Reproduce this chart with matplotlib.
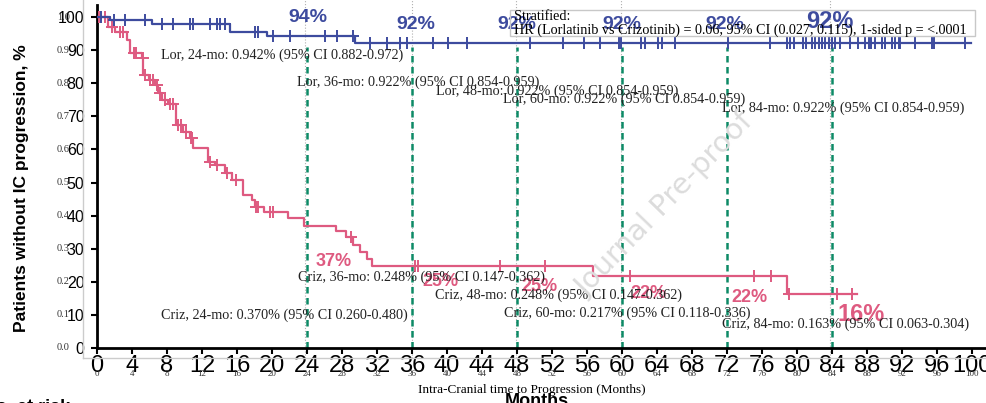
import matplotlib
matplotlib.use("Agg")
import matplotlib.pyplot as plt
from matplotlib.patches import Rectangle
from matplotlib.lines import Line2D
import numpy as np

# Kaplan-Meier step data (months, % without IC progression)
lor_times = [0, 1.5, 6.3, 15.2, 19.4, 29.5]
lor_surv = [100, 99.1, 97.8, 95.6, 94.2, 92.2]
lor_end = 99.9
lor_censor = [0.4, 1.9, 3.2, 5.5, 7.4, 8.7, 10.6, 11.0, 12.9, 13.7, 14.1, 14.6,
              18.1, 18.4, 20.1, 22.1, 26.1, 27.4, 29.2, 31.2, 33.1, 34.6, 35.4,
              38.4, 40.1, 42.3, 49.5, 53.3, 55.6, 57.5, 59.6, 59.9, 62.2, 62.6,
              64.1, 64.6, 66.1, 72.1, 76.9, 78.8, 79.2, 79.6, 80.7, 81.0, 81.7,
              82.1, 82.5, 82.8, 83.2, 83.6, 84.0, 84.3, 84.9, 86.1, 87.0, 87.8,
              88.2, 88.5, 88.9, 89.7, 90.1, 90.8, 91.2, 91.6, 91.8, 93.5, 95.4,
              95.7, 99.2]

criz_times = [0, 1.3, 2.1, 3.4, 3.8, 5.1, 5.3, 5.9, 6.6, 7.0, 7.4, 8.1, 9.0,
              9.8, 10.6, 11.0, 12.7, 13.5, 14.6, 15.4, 16.7, 17.7, 18.1, 19.1,
              21.8, 23.7, 27.3, 28.5, 29.2, 30.1, 30.8, 31.4, 56.7, 78.8]
criz_surv = [100, 97.1, 95.6, 93.0, 89.0, 87.5, 82.5, 81.0, 79.5, 76.9, 75.0,
             73.6, 67.4, 65.4, 63.3, 60.3, 56.3, 55.3, 52.8, 50.8, 46.2, 44.7,
             42.7, 41.2, 39.2, 37.0, 35.3, 33.4, 31.2, 29.1, 27.0, 24.8, 21.7,
             16.3]
criz_end = 86.8
criz_censor = [0.2, 0.9, 1.7, 2.6, 3.0, 4.2, 4.5, 5.2, 5.5, 6.0, 6.4, 6.8, 7.2,
               7.8, 8.3, 8.7, 9.2, 9.6, 10.2, 10.7, 10.8, 12.9, 13.7, 14.8,
               15.9, 18.2, 18.4, 19.8, 20.1, 29.0, 36.3, 36.7, 46.0, 51.2, 60.9,
               75.1, 77.0, 79.1, 84.6, 86.3]

landmarks = [24, 36, 48, 60, 72, 84]
grey_marks = [23.8, 36.0, 47.9, 59.9, 83.8]

lor_pct = [("94%", 24.1, 100.0, 14), ("92%", 36.4, 97.6, 14), ("92%", 48.0, 97.6, 14),
           ("92%", 60.0, 97.6, 14), ("92%", 71.8, 97.7, 14), ("92%", 83.8, 98.6, 17)]
criz_pct = [("37%", 27.0, 26.1, 13), ("25%", 39.3, 20.0, 13), ("25%", 50.6, 18.5, 13),
            ("22%", 63.0, 16.5, 13), ("22%", 74.6, 15.3, 13), ("16%", 87.3, 10.0, 17)]

notes = [
    ("Lor, 24-mo: 0.942% (95% CI 0.882-0.972)", 7.3, 88.5),
    ("Lor, 36-mo: 0.922% (95% CI 0.854-0.959)", 22.9, 80.4),
    ("Lor, 48-mo: 0.922% (95% CI 0.854-0.959)", 38.7, 77.7),
    ("Lor, 60-mo: 0.922% (95% CI 0.854-0.959)", 46.4, 75.1),
    ("Lor, 84-mo: 0.922% (95% CI 0.854-0.959)", 71.4, 72.4),
    ("Criz, 36-mo: 0.248% (95% CI 0.147-0.362)", 23.0, 21.5),
    ("Criz, 48-mo: 0.248% (95% CI 0.147-0.362)", 38.6, 16.0),
    ("Criz, 60-mo: 0.217% (95% CI 0.118-0.336)", 46.5, 10.5),
    ("Criz, 24-mo: 0.370% (95% CI 0.260-0.480)", 7.3, 10.0),
    ("Criz, 84-mo: 0.163% (95% CI 0.063-0.304)", 71.4, 7.3),
]

BLUE = "#3d4b9e"
PINK = "#de5a80"
GREEN = "#0d8a66"
SERIF = "Liberation Serif"
NARROW = ["Liberation Sans Narrow", "Liberation Sans"]

fig = plt.figure(figsize=(9.86, 4.03), dpi=100)
ax = fig.add_axes([97 / 986, 55 / 403, 101.5 * 8.75 / 986, 103.5 * 3.31 / 403])
ax.set_xlim(0, 101.5)
ax.set_ylim(0, 103.5)


def km_line(times, surv, end):
    t = list(times) + [end]
    s = list(surv) + [surv[-1]]
    return t, s


def censor_y(times, surv, c):
    idx = np.searchsorted(times, c, side="right") - 1
    return np.array(surv)[idx]


t, s = km_line(criz_times, criz_surv, criz_end)
ax.plot(t, s, drawstyle="steps-post", color=PINK, lw=1.6, zorder=3)
ax.plot(criz_censor, censor_y(criz_times, criz_surv, criz_censor), ls="none",
        marker="+", ms=9, mew=1.4, color=PINK, zorder=3)

t, s = km_line(lor_times, lor_surv, lor_end)
ax.plot(t, s, drawstyle="steps-post", color=BLUE, lw=1.6, zorder=4)
ax.plot(lor_censor, censor_y(lor_times, lor_surv, lor_censor), ls="none",
        marker="+", ms=9, mew=1.4, color=BLUE, zorder=4)

ax.vlines(landmarks, 0, 91, colors=GREEN, linestyles=(0, (2.6, 1.8)), lw=1.8, zorder=2)
ax.vlines(grey_marks, -3, 105, colors="#b0b0b0", linestyles=":", lw=0.8,
          clip_on=False, zorder=1)

for txt, x, y, fs in lor_pct:
    ax.text(x, y, txt, color=BLUE, fontsize=fs, fontweight="bold",
            ha="center", va="center", zorder=5, family="Liberation Sans")
for txt, x, y, fs in criz_pct:
    ax.text(x, y, txt, color=PINK, fontsize=fs, fontweight="bold",
            ha="center", va="center", zorder=5, family="Liberation Sans")
for txt, x, y in notes:
    ax.text(x, y, txt, fontsize=10.2, family=SERIF, ha="left", va="center",
            color="#222222", zorder=6)

# axes styling
for side in ["top", "right"]:
    ax.spines[side].set_visible(False)
for side in ["left", "bottom"]:
    ax.spines[side].set_linewidth(2)
ax.set_xticks(range(0, 101, 4))
ax.set_xticklabels([str(v) for v in range(0, 101, 4)], fontsize=17, family=NARROW)
ax.set_yticks(range(0, 101, 10))
ax.set_yticklabels([str(v) for v in range(0, 101, 10)], fontsize=11.5,
                   family="Liberation Sans")
ax.tick_params(axis="x", length=4, width=1.5, pad=1)
ax.tick_params(axis="y", length=4, width=1.5, pad=5)

# small overlapping labels from the underlying figure
for v in range(0, 101, 4):
    ax.text(v, -8.0, str(v), fontsize=6.5, family=SERIF, ha="center",
            va="center", clip_on=False, color="#333333")
for v in range(0, 11):
    ax.text(-3.1, v * 10, "%.1f" % (v / 10), fontsize=7.5, family=SERIF,
            ha="right", va="center", clip_on=False, color="#333333")

# grey frame of underlying plot
fig.add_artist(Line2D([83 / 986, 83 / 986], [45 / 403, 1], color="#cccccc", lw=1))
fig.add_artist(Line2D([83 / 986, 1], [45 / 403, 45 / 403], color="#cccccc", lw=1))

# legend box
fig.patches.append(Rectangle((510 / 986, 1 - 36 / 403), 465 / 986, 26 / 403,
                             transform=fig.transFigure, fill=False,
                             edgecolor="#c8c8c8", lw=1))
fig.text(514 / 986, 1 - 17 / 403, "Stratified:", fontsize=10.2, family=SERIF,
         ha="left", va="center")
fig.text(514 / 986, 1 - 30 / 403,
         "HR (Lorlatinib vs Crizotinib) = 0.06, 95% CI (0.027, 0.115), 1-sided p = <.0001",
         fontsize=10.2, family=SERIF, ha="left", va="center")

# watermark
fig.text(665 / 986, 1 - 205 / 403, "Journal Pre-proof", fontsize=21,
         color="#dcdcdc", rotation=46, ha="center", va="center", zorder=0)

fig.text(532 / 986, 1 - 390 / 403, "Intra-Cranial time to Progression (Months)",
         fontsize=9.5, family=SERIF, ha="center", va="center")
fig.text(537 / 986, 1 - 401 / 403, "Months", fontsize=13, fontweight="bold",
         ha="center", va="center", family="Liberation Sans")
fig.text(22 / 986, 1 - 188 / 403, "Patients without IC progression, %",
         fontsize=12.5, fontweight="bold", rotation=90, ha="center",
         va="center", family="Liberation Sans")
fig.text(70 / 986, 1 - 408 / 403, "No. at risk", fontsize=13, fontweight="bold",
         ha="right", va="center", family="Liberation Sans")

fig.savefig("out.png", dpi=100)
